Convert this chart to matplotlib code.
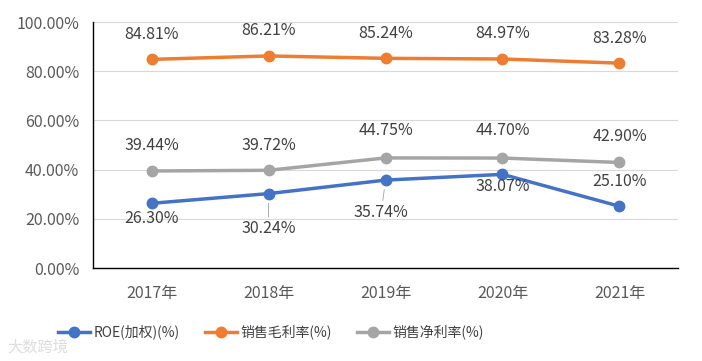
import matplotlib.pyplot as plt

plt.rcParams['font.family'] = ['Noto Sans CJK SC', 'DejaVu Sans']

years = ["2017年", "2018年", "2019年", "2020年", "2021年"]
roe = [26.30, 30.24, 35.74, 38.07, 25.10]
gross = [84.81, 86.21, 85.24, 84.97, 83.28]
net = [39.44, 39.72, 44.75, 44.70, 42.90]
names = ["ROE(加权)(%)", "销售毛利率(%)", "销售净利率(%)"]
colors = ["#4472C4", "#ED7D31", "#A5A5A5"]

# label offsets in points (dx, dy)
roe_off = [(0, -11), (0, -25), (-3, -23), (0, -9), (0, 18)]
gross_off = [(0, 18), (0, 18), (0, 18), (0, 18), (0, 18)]
net_off = [(0, 18), (0, 18), (0, 20), (0, 20), (0, 19)]

fig = plt.figure(figsize=(7.02, 3.61), dpi=100)
ax = fig.add_axes([0.1325, 0.2576, 0.8333, 0.6814])
x = range(len(years))

for vals, offs, name, c in [(roe, roe_off, names[0], colors[0]),
                            (gross, gross_off, names[1], colors[1]),
                            (net, net_off, names[2], colors[2])]:
    ax.plot(x, vals, color=c, lw=2.5, marker="o", ms=7.5, label=name, zorder=3)
    for xi, v, (dx, dy) in zip(x, vals, offs):
        lead = abs(dy) > 20
        ax.annotate(f"{v:.2f}%", (xi, v), textcoords="offset points",
                    xytext=(dx, dy), ha="center", va="center",
                    fontsize=11.5, color="#404040",
                    arrowprops=dict(arrowstyle="-", color="#A0A0A0", lw=0.6,
                                    shrinkA=0, shrinkB=7) if lead else None)

ax.set_xlim(-0.5, 4.5)
ax.set_ylim(0, 100)
ax.set_yticks(range(0, 101, 20))
ax.set_yticklabels([f"{t:.2f}%" for t in range(0, 101, 20)])
ax.set_xticks(list(x))
ax.set_xticklabels(years)
ax.tick_params(length=0, labelsize=11.5, colors="#595959")
ax.tick_params(axis="x", pad=12)
ax.tick_params(axis="y", pad=10)
ax.grid(axis="y", color="#D9D9D9", lw=0.8)
ax.set_axisbelow(True)
for s in ["top", "right"]:
    ax.spines[s].set_visible(False)
for s in ["left", "bottom"]:
    ax.spines[s].set_color("black")
    ax.spines[s].set_linewidth(1.0)

leg = fig.legend(loc="center left", bbox_to_anchor=(0.083, 0.08), ncol=3,
                 frameon=False, fontsize=10, handlelength=2.3,
                 handletextpad=0.25, columnspacing=1.8, borderaxespad=0,
                 borderpad=0, labelcolor="#404040")

fig.text(0.01, 0.025, "大数跨境", fontsize=11, color="#DDDDDD")

fig.savefig("out.png", dpi=100)
